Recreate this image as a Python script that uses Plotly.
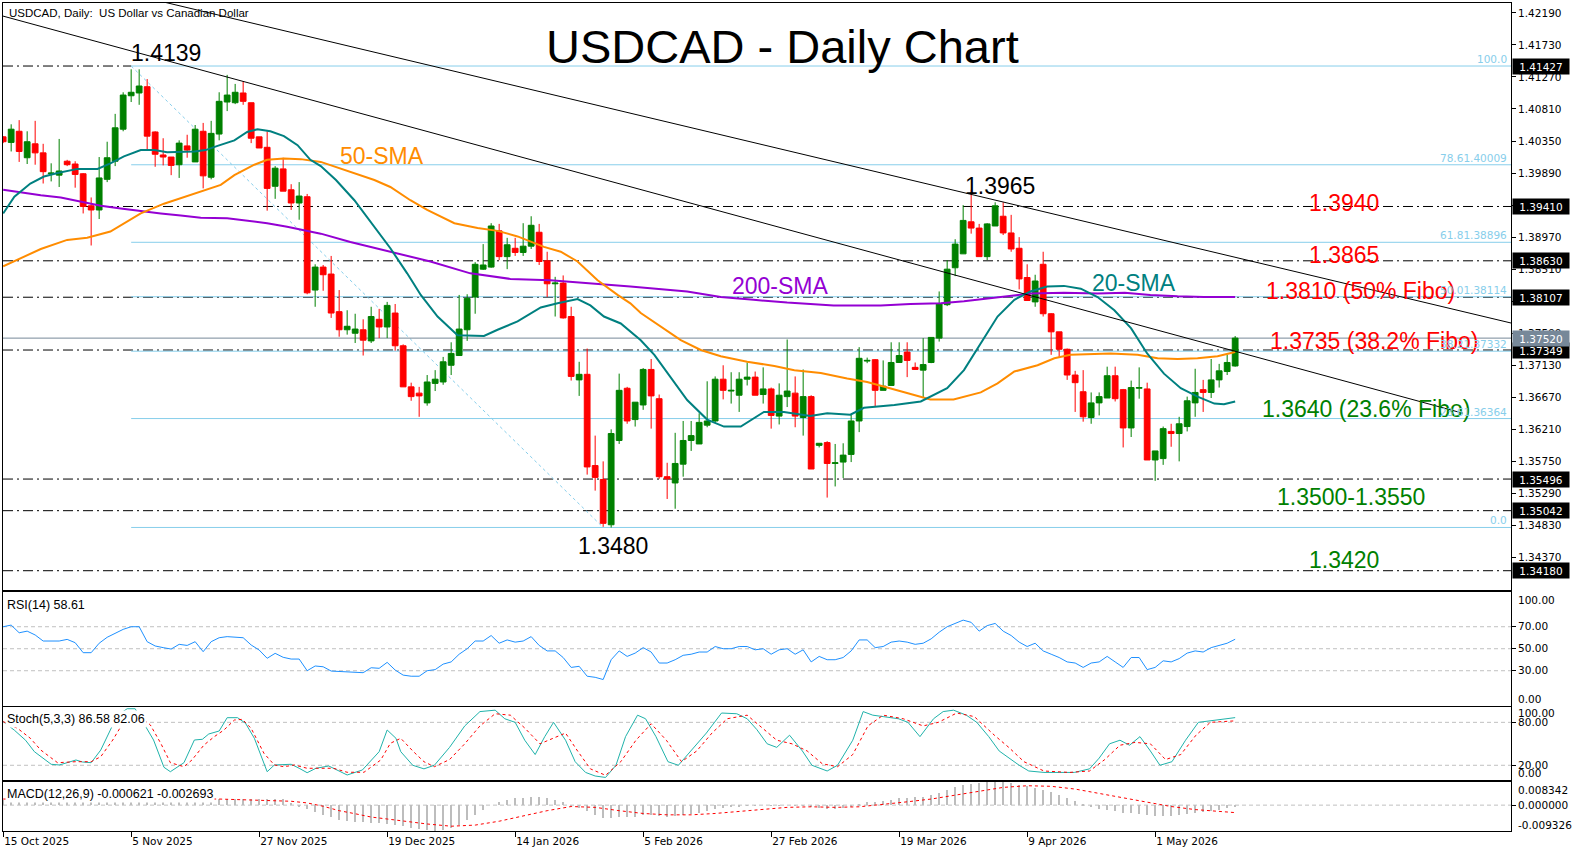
import plotly.graph_objects as go

# ---------------- data ----------------
opens = [1.4041,1.4033,1.4049,1.4011,1.4031,1.4018,1.3988,1.3986,1.4006,1.4002,
         1.3988,1.3942,1.3936,1.3980,1.4006,1.4052,1.4100,1.4104,1.4113,1.4048,
         1.4015,1.4012,1.4001,1.4028,1.4005,1.4049,1.3983,1.4045,1.4091,1.4090,
         1.4104,1.4090,1.4041,1.4026,1.3970,1.3995,1.3965,1.3946,1.3955,1.3821,
         1.3854,1.3844,1.3790,1.3764,1.3759,1.3764,1.3748,1.3779,1.3768,1.3788,
         1.3741,1.3682,1.3673,1.3659,1.3687,1.3689,1.3713,1.3727,1.3764,1.3811,
         1.3851,1.3854,1.3906,1.3869,1.3881,1.3875,1.3884,1.3904,1.3863,1.3830,
         1.3831,1.3783,1.3692,1.3700,1.3569,1.3549,1.3484,1.3605,1.3680,1.3635,
         1.3656,1.3707,1.3665,1.3553,1.3544,1.3571,1.3605,1.3600,1.3627,1.3633,
         1.3693,1.3676,1.3670,1.3693,1.3696,1.3671,1.3679,1.3640,1.3668,1.3673,
         1.3638,1.3668,1.3598,1.3602,1.3572,1.3574,1.3585,1.3633,1.3719,1.3721,
         1.3677,1.3684,1.3717,1.3732,1.3710,1.3706,1.3717,1.3752,1.3800,1.3853,
         1.3873,1.3919,1.3910,1.3869,1.3913,1.3927,1.3903,1.3881,1.3839,1.3804,
         1.3858,1.3787,1.3761,1.3736,1.3699,1.3675,1.3638,1.3659,1.3666,1.3698,
         1.3678,1.3623,1.3680,1.3679,1.3577,1.3579,1.3618,1.3615,1.3625,1.3659,
         1.3678,1.3674,1.3692,1.3704,1.3712]
highs = [1.4042,1.4059,1.4065,1.4049,1.4064,1.4031,1.4003,1.4038,1.4008,1.4006,
         1.3989,1.3954,1.4012,1.4034,1.4074,1.4105,1.4138,1.4138,1.4124,1.4049,
         1.4039,1.4012,1.4036,1.4044,1.4058,1.4061,1.4064,1.4105,1.4130,1.4117,
         1.4121,1.4090,1.4041,1.4049,1.3999,1.4011,1.3973,1.3976,1.3959,1.3858,
         1.3857,1.3870,1.3821,1.3792,1.3787,1.3779,1.3797,1.3794,1.3804,1.3801,
         1.3743,1.3688,1.3682,1.3699,1.3706,1.3725,1.3746,1.3814,1.3815,1.3861,
         1.3887,1.3917,1.3916,1.3896,1.3896,1.3917,1.3927,1.3916,1.3876,1.3840,
         1.3842,1.3797,1.3718,1.3737,1.3612,1.3575,1.3621,1.3701,1.3682,1.3660,
         1.3709,1.3722,1.3671,1.3573,1.3616,1.3633,1.3633,1.3644,1.3690,1.3697,
         1.3713,1.3703,1.3703,1.3717,1.3704,1.3710,1.3681,1.3687,1.3750,1.3697,
         1.3707,1.3670,1.3601,1.3604,1.3600,1.3601,1.3643,1.3739,1.3724,1.3722,
         1.3720,1.3746,1.3746,1.3746,1.3717,1.3752,1.3753,1.3819,1.3864,1.3894,
         1.3943,1.3965,1.3916,1.3917,1.3947,1.3947,1.3929,1.3897,1.3858,1.3843,
         1.3876,1.3788,1.3761,1.3737,1.3705,1.3706,1.3674,1.3674,1.3711,1.3711,
         1.3679,1.3691,1.3710,1.3688,1.3590,1.3625,1.3629,1.3639,1.3668,1.3708,
         1.3692,1.3722,1.3715,1.3728,1.3755]
lows = [1.4032,1.4020,1.4005,1.4002,1.4001,1.3974,1.3977,1.3969,1.3999,1.3968,
        1.3931,1.3885,1.3923,1.3976,1.3999,1.4049,1.4091,1.4087,1.4022,1.3998,
        1.4000,1.3986,1.3982,1.4011,1.4005,1.3967,1.3980,1.4036,1.4078,1.4088,
        1.4087,1.4032,1.4025,1.3935,1.3952,1.3963,1.3936,1.3922,1.3815,1.3797,
        1.3820,1.3781,1.3754,1.3757,1.3745,1.3727,1.3745,1.3752,1.3752,1.3734,
        1.3682,1.3662,1.3639,1.3655,1.3676,1.3685,1.3699,1.3727,1.3748,1.3787,
        1.3850,1.3853,1.3864,1.3851,1.3870,1.3870,1.3880,1.3857,1.3811,1.3783,
        1.3780,1.3691,1.3669,1.3556,1.3533,1.3481,1.3480,1.3600,1.3629,1.3625,
        1.3649,1.3622,1.3550,1.3521,1.3507,1.3553,1.3590,1.3600,1.3624,1.3630,
        1.3664,1.3658,1.3646,1.3684,1.3670,1.3658,1.3622,1.3628,1.3653,1.3624,
        1.3612,1.3564,1.3595,1.3523,1.3539,1.3551,1.3574,1.3617,1.3716,1.3653,
        1.3677,1.3684,1.3717,1.3696,1.3707,1.3667,1.3716,1.3747,1.3798,1.3841,
        1.3873,1.3902,1.3869,1.3864,1.3913,1.3900,1.3876,1.3822,1.3806,1.3797,
        1.3783,1.3728,1.3724,1.3692,1.3646,1.3632,1.3629,1.3641,1.3666,1.3661,
        1.3595,1.3610,1.3665,1.3577,1.3547,1.3570,1.3596,1.3575,1.3618,1.3639,
        1.3646,1.3666,1.3681,1.3699,1.3711]
closes = [1.4034,1.4052,1.4020,1.4034,1.4018,1.3991,1.3989,1.3992,1.4001,1.3987,
          1.3941,1.3936,1.3982,1.4011,1.4054,1.4101,1.4105,1.4114,1.4042,1.4016,
          1.4012,1.4000,1.4032,1.4022,1.4052,1.3985,1.4046,1.4092,1.4101,1.4105,
          1.4092,1.4039,1.4025,1.3967,1.3996,1.3963,1.3946,1.3956,1.3817,1.3854,
          1.3843,1.3788,1.3764,1.3769,1.3765,1.3749,1.3783,1.3768,1.3799,1.3741,
          1.3682,1.3668,1.3669,1.3689,1.3693,1.3718,1.3730,1.3765,1.3809,1.3858,
          1.3857,1.3913,1.3869,1.3886,1.3875,1.3884,1.3914,1.3862,1.3830,1.3831,
          1.3781,1.3697,1.3700,1.3567,1.3552,1.3486,1.3615,1.3677,1.3633,1.3660,
          1.3707,1.3669,1.3553,1.3550,1.3572,1.3605,1.3612,1.3631,1.3633,1.3693,
          1.3677,1.3677,1.3693,1.3696,1.3670,1.3679,1.3641,1.3670,1.3676,1.3640,
          1.3668,1.3564,1.3601,1.3572,1.3573,1.3584,1.3633,1.3723,1.3720,1.3677,
          1.3683,1.3717,1.3727,1.3720,1.3707,1.3714,1.3753,1.3801,1.3851,1.3887,
          1.3921,1.3910,1.3869,1.3916,1.3942,1.3903,1.3880,1.3837,1.3806,1.3834,
          1.3787,1.3761,1.3736,1.3699,1.3688,1.3639,1.3659,1.3668,1.3698,1.3665,
          1.3623,1.3681,1.3681,1.3577,1.3590,1.3622,1.3615,1.3629,1.3662,1.3674,
          1.3674,1.3692,1.3705,1.3717,1.3752]
bars = list(range(len(opens)))

date_ticks = [0, 16, 32, 48, 64, 80, 96, 112, 128, 144]
date_labels = ["15 Oct 2025", "5 Nov 2025", "27 Nov 2025", "19 Dec 2025", "14 Jan 2026",
               "5 Feb 2026", "27 Feb 2026", "19 Mar 2026", "9 Apr 2026", "1 May 2026"]

price_ticks = [1.42190, 1.41730, 1.41270, 1.40810, 1.40350, 1.39890, 1.39430, 1.38970,
               1.38510, 1.38050, 1.37590, 1.37130, 1.36670, 1.36210, 1.35750, 1.35290,
               1.34830, 1.34370]

sma20_x = [0,1.4,3.4,5.1,6.8,9.3,11.8,13.4,15.1,17.2,18.9,20.5,23.9,25.3,26.8,28.9,30.5,31.8,
           33.4,35.1,36.8,38.4,39.7,41.6,43.9,46.1,48.4,50.5,52.2,54.3,56.8,60.1,61.8,64.3,
           67.2,69.3,71.8,73.4,75.1,77.2,79.7,81.4,83.4,85.5,88.0,90.1,92.2,95.1,97.6,100.9,
           103.0,105.9,107.6,111.4,114.7,117.2,118.0,120.1,122.2,124.3,126.4,128.4,130.5,
           132.6,134.7,136.8,138.9,141.0,143.0,145.1,147.2,149.3,151.4,152.6,154.0]
sma20_v = [1.3931,1.3955,1.3974,1.3984,1.3989,1.3995,1.3995,1.4003,1.4013,1.4022,1.4022,1.4019,
           1.4020,1.4022,1.4028,1.4036,1.4048,1.4052,1.4049,1.4042,1.4029,1.4008,1.3999,1.3979,
           1.3950,1.3917,1.3881,1.3845,1.3814,1.3783,1.3756,1.3755,1.3764,1.3776,1.3796,1.3802,
           1.3808,1.3799,1.3783,1.3773,1.3749,1.3728,1.3697,1.3663,1.3635,1.3625,1.3625,1.3646,
           1.3646,1.3640,1.3644,1.3642,1.3652,1.3656,1.3661,1.3675,1.3680,1.3706,1.3745,1.3783,
           1.3807,1.3819,1.3826,1.3827,1.3823,1.3811,1.3792,1.3766,1.3730,1.3701,1.3680,1.3668,
           1.3658,1.3657,1.3661]

sma50_x = [0,2.2,4.7,8.0,10.5,13.4,15.5,17.2,20.1,23.0,25.5,27.2,28.9,31.4,33.0,35.1,37.2,39.7,
           46.4,48.4,50.9,53.0,56.4,59.3,61.8,64.3,67.6,69.7,71.8,74.3,76.8,78.4,79.7,82.2,84.7,
           87.2,89.7,93.0,96.4,98.9,102.2,105.5,108.0,110.5,113.0,115.9,118.8,122.2,124.3,126.4,
           129.3,131.4,133.4,135.9,138.4,141.8,144.3,146.8,149.3,151.8,154.0]
sma50_v = [1.3855,1.3867,1.3880,1.3893,1.3896,1.3905,1.3919,1.3931,1.3945,1.3956,1.3965,1.3972,
           1.3986,1.4001,1.4008,1.4010,1.4009,1.4005,1.3979,1.3969,1.3950,1.3936,1.3917,1.3910,
           1.3906,1.3898,1.3883,1.3876,1.3862,1.3835,1.3814,1.3802,1.3788,1.3768,1.3749,1.3735,
           1.3726,1.3718,1.3712,1.3706,1.3702,1.3694,1.3689,1.3681,1.3673,1.3664,1.3664,1.3674,
           1.3687,1.3704,1.3713,1.3723,1.3728,1.3729,1.3730,1.3728,1.3723,1.3722,1.3723,1.3726,
           1.3732]

sma200_x = [0,2.2,4.7,7.2,9.7,12.2,14.7,17.2,19.7,22.2,24.7,28.0,30.5,33.0,35.5,38.0,39.7,43.4,
            48.4,53.4,58.4,63.4,68.4,73.4,78.4,85.5,89.7,93.8,98.0,103.8,109.7,113.4,117.2,
            120.1,124.3,128.4,132.6,136.8,140.2,143.4,146.8,150.1,154.0]
sma200_v = [1.3965,1.3961,1.3957,1.3954,1.3948,1.3942,1.3938,1.3934,1.3931,1.3928,1.3925,1.3924,
            1.3921,1.3917,1.3912,1.3906,1.3902,1.3890,1.3876,1.3862,1.3845,1.3837,1.3835,1.3831,
            1.3826,1.3819,1.3811,1.3807,1.3803,1.3799,1.3799,1.3801,1.3802,1.3805,1.3811,1.3816,
            1.3817,1.3816,1.3817,1.3814,1.3812,1.3811,1.3811]

rsi_x = [0,1,2,3,4,5,7,8,9,10,11,12,13,15,16,17,18,19,20,21,22,23,24,25,26,27,28,30,31,32,33,34,
         35,36,37,38,39,40,41,45,46,47,48,49,50,51,52,53,54,55,56,57,58,59,60,61,62,63,64,65,66,
         67,68,69,70,71,72,73,74,75,76,77,78,79,80,81,82,83,84,85,86,87,88,89,90,91,92,93,94,95,
         96,97,98,99,100,101,102,103,104,105,106,107,108,109,110,111,112,113,114,115,116,117,
         118,119,120,121,122,123,124,125,126,127,128,129,130,131,132,133,134,135,136,137,138,
         139,140,141,142,143,144,145,146,147,148,149,150,151,152,153,154]
rsi_v = [70,71.5,64.5,66,62.5,57,57,58.5,55.5,46.4,46.4,55,60.4,67.6,70,70,56.4,52.5,51,49.7,54,
         53,56.4,47.3,56.4,60,61,60,53.4,48.8,41.3,45.8,42.2,40.6,40.6,30,34.3,33.6,29.7,28.2,
         32.7,32.2,37.6,30.6,26,25,25,30,31,36,38,45,50,57,57,62,55,58,56,57,61,53,48,48,42,33,
         34,25,24,22,40,48,43,46,51,47,37,37,40,44,45,47,47,52,50,50,52,52,49,50,45,49,50,45,
         49,38,43,40,40,42,48,58,58,51,52,56,57,56,54,55,59,65,70,73,76,74,66,71,73,66,62,56,
         52,55,48,45,42,38,37,33,37,38,43,38,33,42,42,31,33,39,38,41,46,48,47,51,53,55,58.61]

stoch_main_x = [0,1.4,2.8,3.9,6,7,8,9.1,9.9,11,12.2,13.7,14.6,15.5,16.5,17.6,18.8,20.1,20.9,
                22.6,23.9,24.9,25.7,27,28,29.3,30.3,31.4,33,33.9,36,37,38,39.1,40.7,43,44.9,
                47,48,49.1,49.7,51.2,52.6,53.9,55.8,57.7,59.6,61.5,62.7,64,65.2,66.5,67.7,
                68.8,70.3,71.5,72.8,74,75.3,76.6,77.8,79.3,80.3,81.6,83.1,84.4,86,87.9,89.8,
                91.7,93,94.2,95.5,96.7,98.3,99.9,101.1,103,104.3,106.2,107.5,108.7,110,111.9,
                113.1,114.6,116.3,117.5,118.8,120.4,121.7,123.2,124.5,125.7,127,128.2,130.1,
                132,133.9,135.8,137,138.3,139.6,140.8,142.1,143.4,144.6,146.1,147.8,149.4,
                150.9,152.5,154]
stoch_main_v = [81,69,55,39,21.4,20.4,23.6,27.4,24.6,23.6,41.3,76.3,92,99,99,78.6,55.3,17.2,11,
                23.6,55.3,56.3,63.7,67.9,86.5,86.5,78.6,57.7,11,20.4,21.4,15.8,9.6,15.8,19,6.4,
                13.4,39,69.3,57.7,39,20,15,20,45,75,95,97,85,80,55,35,60,80,55,25,10,5,3,20,60,
                90,85,60,25,20,40,65,93,92,85,70,50,45,62,40,20,12,20,55,95,90,88,85,80,60,85,
                95,97,90,80,60,40,30,20,12,10,10,10,15,30,50,55,48,60,40,20,25,55,80,82,85,86.58]
stoch_sig_x = [0,1.8,3.4,4.7,6.8,9.1,11,12.2,13.7,14.7,15.7,16.7,18.4,19.7,20.9,22.6,23.6,25.1,
               26.4,27.6,28.9,29.9,31,32.6,33.9,35.1,36.4,38,39.7,41.3,43,45.1,47.2,48.4,49.7,
               51.2,52.6,53.9,55.8,57.7,59.6,61.5,63.4,65.2,67.1,68.8,70.3,71.8,73.4,75.3,77.2,
               79.1,81,82.9,84.8,86.7,88.6,90.5,93,94.9,96.7,98.6,100.5,102.4,104.3,106.2,108.1,
               110,112.5,115,116.9,119.2,121.4,123.9,125.7,127.6,130.1,133.3,135.8,137.7,139.6,
               141.5,143.4,145.3,147.2,149.1,150.9,154]
stoch_sig_v = [81,71.6,57.7,41.3,23.6,25,25,32,55.3,73.9,85,92,76.3,50.7,23.6,18,27.4,48.3,60,
               69.3,83.2,84.2,71.6,36.7,20.4,18,20.4,15.8,15.8,15.8,10.2,10.2,27.4,50.7,57.7,40,
               25,18,28,50,75,92,90,72,50,58,65,40,15,6,25,55,78,55,25,40,65,85,90,72,55,50,40,
               22,18,35,75,90,85,75,80,93,88,62,45,25,12,10,12,28,48,52,50,28,35,62,80,82.06]

macd_hist = [0.0020]*27 + [0.0022]*9 + [
    0.0008,-0.0004,-0.0015,-0.0025,-0.0035,-0.0044,-0.0052,-0.0057,-0.0060,-0.0062,
    -0.0063,-0.0065,-0.0068,-0.0071,-0.0076,-0.0082,-0.0087,-0.0090,-0.0092,-0.0090,
    -0.0084,-0.0072,-0.0055,-0.0035,-0.0018,0.0000,0.0012,0.0020,0.0024,0.0027,
    0.0030,0.0028,0.0024,0.0018,0.0010,-0.0002,-0.0010,-0.0022,-0.0034,-0.0045,
    -0.0046,-0.0044,-0.0043,-0.0041,-0.0036,-0.0034,-0.0038,-0.0042,-0.0040,-0.0036,
    -0.0032,-0.0027,-0.0022,-0.0015,-0.0011,-0.0008,-0.0005,-0.0002,-0.0001,0.0000,
    -0.0002,-0.0002,0.0000,-0.0002,-0.0001,-0.0008,-0.0011,-0.0014,-0.0013,-0.0011,
    -0.0006,0.0004,0.0010,0.0012,0.0015,0.0020,0.0024,0.0027,0.0029,0.0031,
    0.0036,0.0045,0.0055,0.0064,0.0073,0.0078,0.0080,0.0082,0.0083,0.0082,
    0.0079,0.0074,0.0068,0.0062,0.0055,0.0046,0.0036,0.0026,0.0015,0.0003,
    -0.0007,-0.0014,-0.0018,-0.0022,-0.0028,-0.0030,-0.0032,-0.0037,-0.0040,-0.0040,
    -0.0039,-0.0037,-0.0033,-0.0029,-0.0026,-0.0021,-0.0016,-0.0011,-0.000621]
macd_sig_x = [0,27,36,38,40,42,44,46,48,50,53,56,59,62,65,68,71,74,77,80,83,86,89,92,95,98,101,
              104,107,110,113,116,119,122,125,128,131,134,137,140,143,146,149,152,154]
macd_sig_v = [0.0022,0.0022,0.0014,0.0008,-0.0004,-0.0020,-0.0031,-0.0043,-0.0050,-0.0058,-0.0068,
              -0.0076,-0.0072,-0.0058,-0.0040,-0.0020,-0.0005,-0.0008,-0.0020,-0.0030,-0.0035,
              -0.0035,-0.0030,-0.0022,-0.0015,-0.0008,-0.0006,-0.0008,-0.0006,0.0002,0.0012,
              0.0022,0.0036,0.0052,0.0064,0.0070,0.0068,0.0058,0.0042,0.0026,0.0010,-0.0005,
              -0.0016,-0.0023,-0.002693]

level_lines = [1.39410, 1.38630, 1.38107, 1.37349, 1.35496, 1.35042, 1.34180]
high_level = 1.41427
current_price = 1.37520
fib_high, fib_low = 1.41427, 1.34801
fib_start_bar, fib_end_bar = 16, 75
fib_ratios = [1.0, 0.786, 0.618, 0.5, 0.382, 0.236, 0.0]
fib_texts = ["100.0", "78.61.40009", "61.81.38896", "50.01.38114", "38.21.37332", "23.61.36364", "0.0"]
trend_upper = [(-0.02, 1.42896), (188.48, 1.37737)]
trend_lower = [(-0.02, 1.42144), (182.48, 1.36441)]

# ---------------- geometry ----------------
W, H = 1581, 855
PL, PR, PT, PB = 3, 1511, 3, 831
XR = [-0.02, 188.48]
YR_MAIN = [1.33903, 1.42332]


def px(X):
    return (X - PL) / (PR - PL)


def py(Y):
    return (PB - Y) / (PB - PT)


GREEN, RED = "#008000", "#FF0000"
FIBC = "#87CEEB"
AXF = dict(family="DejaVu Sans", size=10.5, color="black")

fig = go.Figure()

fig.add_trace(go.Candlestick(
    x=bars, open=opens, high=highs, low=lows, close=closes,
    increasing=dict(line=dict(color=GREEN, width=1), fillcolor=GREEN),
    decreasing=dict(line=dict(color=RED, width=1), fillcolor=RED),
    whiskerwidth=0, xaxis="x", yaxis="y", showlegend=False, hoverinfo="skip"))

for xs, vs, col in [(sma200_x, sma200_v, "#9400D3"), (sma50_x, sma50_v, "#FF8C00"),
                    (sma20_x, sma20_v, "#008080")]:
    fig.add_trace(go.Scatter(x=xs, y=vs, mode="lines", line=dict(color=col, width=2),
                             xaxis="x", yaxis="y", showlegend=False, hoverinfo="skip"))

fig.add_trace(go.Scatter(x=rsi_x, y=rsi_v, mode="lines", line=dict(color="#1E90FF", width=1),
                         xaxis="x2", yaxis="y2", showlegend=False))
fig.add_trace(go.Scatter(x=stoch_main_x, y=stoch_main_v, mode="lines",
                         line=dict(color="#20B2AA", width=1), xaxis="x3", yaxis="y3", showlegend=False))
fig.add_trace(go.Scatter(x=stoch_sig_x, y=stoch_sig_v, mode="lines",
                         line=dict(color="#FF0000", width=1, dash="dot"), xaxis="x3", yaxis="y3",
                         showlegend=False))
fig.add_trace(go.Bar(x=bars, y=macd_hist, marker=dict(color="#BDBDBD", line=dict(width=0)),
                     width=0.2, xaxis="x4", yaxis="y4", showlegend=False))
fig.add_trace(go.Scatter(x=macd_sig_x, y=macd_sig_v, mode="lines",
                         line=dict(color="#FF0000", width=1, dash="dot"), xaxis="x4", yaxis="y4",
                         showlegend=False))

shapes = []
DASHDOT = "10px,4px,2px,4px"
shapes.append(dict(type="line", xref="x", yref="y", x0=XR[0], x1=fib_start_bar, y0=high_level,
                   y1=high_level, line=dict(color="black", width=1, dash=DASHDOT), layer="below"))
for lv in level_lines:
    shapes.append(dict(type="line", xref="x", yref="y", x0=XR[0], x1=XR[1], y0=lv, y1=lv,
                       line=dict(color="black", width=1, dash=DASHDOT), layer="below"))
for r in fib_ratios:
    lv = fib_low + r * (fib_high - fib_low)
    shapes.append(dict(type="line", xref="x", yref="y", x0=fib_start_bar, x1=XR[1], y0=lv, y1=lv,
                       line=dict(color=FIBC, width=1), layer="below"))
shapes.append(dict(type="line", xref="x", yref="y", x0=fib_start_bar, x1=fib_end_bar, y0=fib_high,
                   y1=fib_low, line=dict(color=FIBC, width=1, dash="dot"), layer="below"))
shapes.append(dict(type="line", xref="x", yref="y", x0=XR[0], x1=XR[1], y0=current_price,
                   y1=current_price, line=dict(color="#778899", width=1), layer="below"))
for (a, b) in [trend_upper, trend_lower]:
    shapes.append(dict(type="line", xref="x", yref="y", x0=a[0], y0=a[1], x1=b[0], y1=b[1],
                       line=dict(color="black", width=1), layer="above"))
for yref, lvls in [("y2", [70, 50, 30]), ("y3", [80, 20]), ("y4", [0])]:
    xref = {"y2": "x2", "y3": "x3", "y4": "x4"}[yref]
    for lv in lvls:
        shapes.append(dict(type="line", xref=xref, yref=yref, x0=XR[0], x1=XR[1], y0=lv, y1=lv,
                           line=dict(color="#C0C0C0", width=1, dash="4px,3px"), layer="below"))

ann = []
LS = "Liberation Sans"
ann.append(dict(text="USDCAD - Daily Chart", x=px(782), y=py(46), xref="paper", yref="paper",
                xanchor="center", yanchor="middle", showarrow=False,
                font=dict(family=LS, size=47, color="black")))
ann.append(dict(text="USDCAD, Daily:  US Dollar vs Canadian Dollar", x=px(7), y=py(12.5),
                xref="paper", yref="paper", xanchor="left", yanchor="middle", showarrow=False,
                font=dict(family=LS, size=11.5, color="black")))


def label(text, X, Y, color, anchor="left", size=23):
    ann.append(dict(text=text, x=px(X), y=py(Y), xref="paper", yref="paper", xanchor=anchor,
                    yanchor="middle", showarrow=False, font=dict(family=LS, size=size, color=color)))


label("1.4139", 166, 53, "black", "center")
label("50-SMA", 338, 156, "#FF8C00")
label("200-SMA", 730, 286, "#9400D3")
label("20-SMA", 1090, 283, "#008080")
label("1.3965", 963, 186, "black")
label("1.3940", 1307, 203, RED)
label("1.3865", 1307, 255, RED)
label("1.3810 (50% Fibo)", 1264, 291, RED)
label("1.3735 (38.2% Fibo)", 1268, 341, RED)
label("1.3640 (23.6% Fibo)", 1260, 409, GREEN)
label("1.3500-1.3550", 1275, 497, GREEN)
label("1.3420", 1307, 560, GREEN)
label("1.3480", 613, 546, "black", "center")

for r, t in zip(fib_ratios, fib_texts):
    lv = fib_low + r * (fib_high - fib_low)
    ann.append(dict(text=t, x=1, y=lv, xref="paper", yref="y", xanchor="right", yanchor="bottom",
                    xshift=-2, yshift=-1, showarrow=False,
                    font=dict(family="DejaVu Sans", size=10.5, color=FIBC)))

for lv in [high_level] + level_lines:
    ann.append(dict(text=f"{lv:.5f}", x=1, y=lv, xref="paper", yref="y", xanchor="left",
                    yanchor="middle", xshift=1, showarrow=False, bgcolor="black", width=54, height=13,
                    font=dict(family="DejaVu Sans", size=10.5, color="white")))
ann.append(dict(text=f"{current_price:.5f}", x=1, y=current_price, xref="paper", yref="y",
                xanchor="left", yanchor="middle", xshift=1, showarrow=False, bgcolor="#778899",
                width=54, height=13, font=dict(family="DejaVu Sans", size=10.5, color="white")))

for t, Y in [("RSI(14) 58.61", 604.5), ("Stoch(5,3,3) 86.58 82.06", 718.5),
             ("MACD(12,26,9) -0.000621 -0.002693", 793.5)]:
    ann.append(dict(text=t, x=px(5), y=py(Y), xref="paper", yref="paper", xanchor="left",
                    yanchor="middle", showarrow=False, bgcolor="white",
                    font=dict(family=LS, size=12.5, color="black")))

for t, Y in [("100.00", 599.5), ("0.00", 698.5), ("100.00", 712.5), ("0.00", 773),
             ("0.008342", 789.5), ("-0.009326", 825)]:
    ann.append(dict(text=t, x=1, y=py(Y), xref="paper", yref="paper", xanchor="left",
                    yanchor="middle", xshift=5, showarrow=False,
                    font=dict(family="DejaVu Sans", size=10.5, color="black")))

frame = dict(showline=True, linecolor="black", linewidth=1, mirror=True, showgrid=False,
             zeroline=False, fixedrange=True)

layout = dict(
    width=W, height=H, margin=dict(l=PL, r=W - PR, t=PT, b=H - PB, pad=0),
    paper_bgcolor="white", plot_bgcolor="white", showlegend=False,
    boxgap=0.28, boxgroupgap=0.0, bargap=0,
    shapes=shapes, annotations=ann,
    xaxis=dict(domain=[0, 1], range=XR, anchor="y", showticklabels=False, ticks="",
               rangeslider=dict(visible=False), **frame),
    xaxis2=dict(domain=[0, 1], range=XR, anchor="y2", matches="x", showticklabels=False, ticks="", **frame),
    xaxis3=dict(domain=[0, 1], range=XR, anchor="y3", matches="x", showticklabels=False, ticks="", **frame),
    xaxis4=dict(domain=[0, 1], range=XR, anchor="y4", matches="x", tickvals=date_ticks,
                ticktext=date_labels, ticks="outside", ticklen=5, tickcolor="black",
                ticklabelposition="outside right", tickfont=AXF, **frame),
    yaxis=dict(domain=[py(590), 1], range=YR_MAIN, anchor="x", side="right", tickvals=price_ticks,
               ticktext=[f"{v:.5f}" for v in price_ticks], ticks="outside", ticklen=4,
               tickcolor="black", tickfont=AXF, **frame),
    yaxis2=dict(domain=[py(705.7), py(592.3)], range=[-1.8, 101.3], anchor="x2", side="right",
                tickvals=[30, 50, 70], ticktext=["30.00", "50.00", "70.00"], ticks="outside",
                ticklen=4, tickcolor="black", tickfont=AXF, **frame),
    yaxis3=dict(domain=[py(780.3), py(707.3)], range=[-1, 101], anchor="x3", side="right",
                tickvals=[20, 80], ticktext=["20.00", "80.00"], ticks="outside", ticklen=4,
                tickcolor="black", tickfont=AXF, **frame),
    yaxis4=dict(domain=[0, py(782)], range=[-0.00933, 0.00835], anchor="x4", side="right",
                tickvals=[0], ticktext=["0.000000"], ticks="outside", ticklen=4,
                tickcolor="black", tickfont=AXF, **frame),
)
fig.update_layout(**layout)
fig.write_html("out.html")
